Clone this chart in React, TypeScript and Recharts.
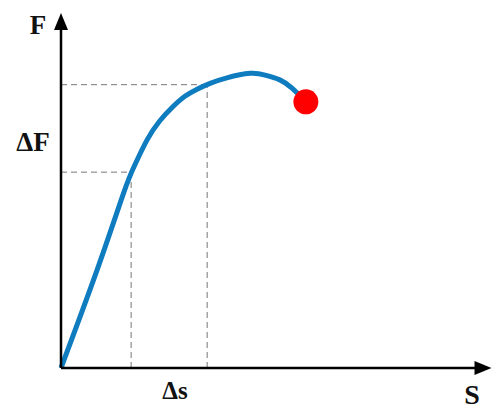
import { Customized, Line, LineChart, ReferenceDot, ReferenceLine, XAxis, YAxis } from "recharts";

// displacement s and force F (arbitrary units, 0..100)
const sValues = [0, 8.6, 14.9, 17.5, 20.5, 23.5, 26.5, 29.5, 32.4, 35.5, 39.5, 45.0, 48.6, 52.1, 55.0, 58.3];
const fValues = [0, 28.6, 51.0, 59.0, 66.5, 72.0, 76.0, 79.2, 81.3, 83.0, 84.6, 85.9, 85.4, 84.0, 81.6, 77.6];

// points the dashed guides pass through
const guideS = [16.7, 34.8];
const guideF = [57.1, 82.6];

const data = sValues.map((s, i) => ({ s, f: fValues[i] }));
const last = data[data.length - 1];

const font = { fontFamily: "'Liberation Serif', serif", fontWeight: 700, fill: "#111" };

const Labels = () => (
  <g>
    <text x={38} y={34} textAnchor="middle" fontSize={27} {...font}>F</text>
    <text x={33} y={151} textAnchor="middle" fontSize={27} {...font}>ΔF</text>
    <text x={175} y={399} textAnchor="middle" fontSize={25} {...font}>Δs</text>
    <text x={472} y={404} textAnchor="middle" fontSize={28} {...font}>S</text>
  </g>
);

const ArrowUp = ({ cx, cy }: any) => (
  <polygon points={`${cx},${cy} ${cx - 7},${cy + 17} ${cx + 7},${cy + 17}`} fill="#000" />
);
const ArrowRight = ({ cx, cy }: any) => (
  <polygon points={`${cx},${cy} ${cx - 17},${cy - 7} ${cx - 17},${cy + 7}`} fill="#000" />
);

export default function App() {
  return (
    <div style={{ position: "absolute", left: 0, top: 0, background: "#fff" }}>
      <LineChart width={495} height={410} data={data} margin={{ top: 25, right: 14, bottom: 42, left: 61 }}>
        <XAxis dataKey="s" type="number" domain={[0, 100]} hide />
        <YAxis dataKey="f" type="number" domain={[0, 100]} hide />

        {guideS.map((s, i) => (
          <ReferenceLine
            key={"v" + i}
            segment={[{ x: s, y: 0 }, { x: s, y: guideF[i] }]}
            stroke="#777"
            strokeDasharray="6 4"
            strokeWidth={1}
          />
        ))}
        {guideF.map((f, i) => (
          <ReferenceLine
            key={"h" + i}
            segment={[{ x: 0, y: f }, { x: guideS[i], y: f }]}
            stroke="#777"
            strokeDasharray="6 4"
            strokeWidth={1}
          />
        ))}

        <Line
          dataKey="f"
          type="natural"
          stroke="#0f7cc0"
          strokeWidth={5}
          dot={false}
          isAnimationActive={false}
        />

        <ReferenceLine segment={[{ x: 0, y: 0 }, { x: 0, y: 99 }]} stroke="#000" strokeWidth={2.5} ifOverflow="visible" />
        <ReferenceLine segment={[{ x: 0, y: 0 }, { x: 99, y: 0 }]} stroke="#000" strokeWidth={2.5} ifOverflow="visible" />
        <ReferenceDot x={0} y={103.5} ifOverflow="visible" shape={ArrowUp} />
        <ReferenceDot x={102.5} y={0} ifOverflow="visible" shape={ArrowRight} />

        <ReferenceDot x={last.s} y={last.f} r={12.5} fill="#ff0000" stroke="none" ifOverflow="visible" />
        <Customized component={Labels} />
      </LineChart>
    </div>
  );
}
